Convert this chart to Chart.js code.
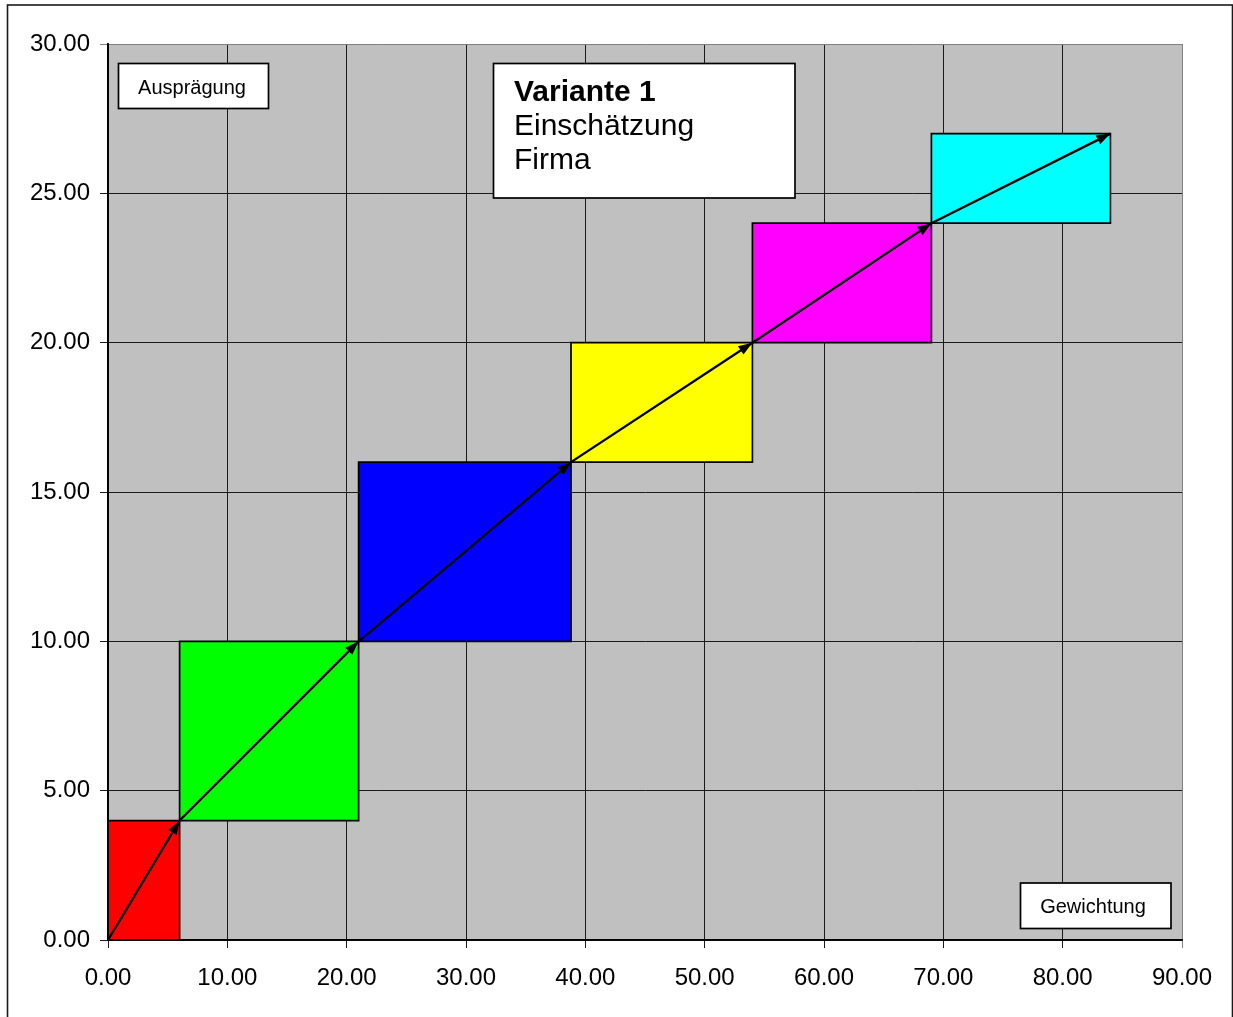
<!DOCTYPE html>
<html>
<head>
<meta charset="utf-8">
<title>Variante 1 – Einschätzung Firma</title>
<script src="https://cdn.jsdelivr.net/npm/chart.js@4/dist/chart.umd.min.js"></script>
<style>
  html, body { margin: 0; padding: 0; background: #fff; }
  canvas { display: block; }
</style>
</head>
<body>
<canvas id="chart" width="1233" height="1017"></canvas>
<script>
// Cumulative boundaries of the segments: weight (x) and rating (y)
const gewichtungGrenzen = [0, 6, 21, 38.8, 54, 69, 84];
const auspraegungGrenzen = [0, 4, 10, 16, 20, 24, 27];
const segmentFarben = ['#FF0000', '#00FF00', '#0000FF', '#FFFF00', '#FF00FF', '#00FFFF'];

// Axis ranges
const xBereich = { min: 0, max: 90, step: 10 };
const yBereich = { min: 0, max: 30, step: 5 };

// Text boxes
const titelZeilen = ['Variante 1', 'Einschätzung', 'Firma'];
const yAchsenTitel = 'Ausprägung';
const xAchsenTitel = 'Gewichtung';

const FONT = "'Liberation Sans', Arial, Helvetica, sans-serif";

// One closed rectangle per segment
const rechteckDatasets = segmentFarben.map((farbe, i) => {
  const x0 = gewichtungGrenzen[i], x1 = gewichtungGrenzen[i + 1];
  const y0 = auspraegungGrenzen[i], y1 = auspraegungGrenzen[i + 1];
  return {
    label: 'Segment ' + (i + 1),
    data: [{x: x0, y: y0}, {x: x1, y: y0}, {x: x1, y: y1}, {x: x0, y: y1}, {x: x0, y: y0}],
    showLine: true,
    fill: 'shape',
    backgroundColor: farbe,
    borderColor: '#000',
    borderWidth: 1.7,
    pointRadius: 0,
    tension: 0
  };
});

// Diagonal path through the corners
const pfadDataset = {
  label: 'Pfad',
  data: gewichtungGrenzen.map((x, i) => ({x: x, y: auspraegungGrenzen[i]})),
  showLine: true,
  fill: false,
  borderColor: '#000',
  borderWidth: 2.3,
  pointRadius: 0,
  tension: 0
};

const plotHintergrund = {
  id: 'plotHintergrund',
  beforeDraw(chart) {
    const {ctx, chartArea: a} = chart;
    ctx.save();
    ctx.fillStyle = '#fff';
    ctx.fillRect(0, 0, chart.width, chart.height);
    ctx.fillStyle = '#C0C0C0';
    ctx.fillRect(a.left, a.top, a.right - a.left, a.bottom - a.top);
    ctx.restore();
  }
};

const pfeilSpitzen = {
  id: 'pfeilSpitzen',
  afterDatasetsDraw(chart) {
    const {ctx, scales: {x, y}} = chart;
    ctx.save();
    ctx.fillStyle = '#000';
    for (let i = 1; i < gewichtungGrenzen.length; i++) {
      const px0 = x.getPixelForValue(gewichtungGrenzen[i - 1]);
      const py0 = y.getPixelForValue(auspraegungGrenzen[i - 1]);
      const px1 = x.getPixelForValue(gewichtungGrenzen[i]);
      const py1 = y.getPixelForValue(auspraegungGrenzen[i]);
      const ang = Math.atan2(py1 - py0, px1 - px0);
      const len = 14, half = 5;
      ctx.beginPath();
      ctx.moveTo(px1, py1);
      ctx.lineTo(px1 - len * Math.cos(ang) + half * Math.sin(ang), py1 - len * Math.sin(ang) - half * Math.cos(ang));
      ctx.lineTo(px1 - len * Math.cos(ang) - half * Math.sin(ang), py1 - len * Math.sin(ang) + half * Math.cos(ang));
      ctx.closePath();
      ctx.fill();
    }
    ctx.restore();
  }
};

function textBox(ctx, l, t, r, b) {
  ctx.fillStyle = '#fff';
  ctx.fillRect(l, t, r - l, b - t);
  ctx.strokeStyle = '#000';
  ctx.lineWidth = 1.7;
  ctx.strokeRect(l, t, r - l, b - t);
}

const beschriftungen = {
  id: 'beschriftungen',
  afterDraw(chart) {
    const {ctx} = chart;
    ctx.save();
    // outer frame
    ctx.strokeStyle = '#1a1a1a';
    ctx.lineWidth = 1.6;
    ctx.strokeRect(7.5, 5, 1225, 1100);

    // y-axis caption
    textBox(ctx, 118.5, 63.5, 268.5, 108.5);
    ctx.fillStyle = '#000';
    ctx.font = '20px ' + FONT;
    ctx.textAlign = 'center';
    ctx.textBaseline = 'alphabetic';
    ctx.fillText(yAchsenTitel, 192, 94);

    // x-axis caption
    textBox(ctx, 1020.5, 883, 1171, 928.5);
    ctx.fillStyle = '#000';
    ctx.fillText(xAchsenTitel, 1093, 913);

    // title block
    textBox(ctx, 493.5, 63.5, 795, 198);
    ctx.fillStyle = '#000';
    ctx.textAlign = 'left';
    ctx.font = 'bold 30px ' + FONT;
    ctx.fillText(titelZeilen[0], 514, 101);
    ctx.font = '30px ' + FONT;
    ctx.fillText(titelZeilen[1], 514, 135);
    ctx.fillText(titelZeilen[2], 514, 169);
    ctx.restore();
  }
};

new Chart(document.getElementById('chart'), {
  type: 'scatter',
  data: { datasets: [pfadDataset, ...rechteckDatasets] },
  options: {
    responsive: false,
    animation: false,
    layout: { padding: { top: 44, right: 51, left: 0, bottom: 0 } },
    plugins: {
      legend: { display: false },
      tooltip: { enabled: false },
      filler: { propagate: false }
    },
    scales: {
      x: {
        type: 'linear',
        min: xBereich.min, max: xBereich.max,
        afterFit(scale) { scale.height = 77; },
        border: { display: true, color: '#000', width: 1.8 },
        grid: {
          color: ctx => (ctx.tick && ctx.tick.value === xBereich.max) ? '#808080' : '#1a1a1a',
          lineWidth: 1,
          drawTicks: true,
          tickLength: 8
        },
        ticks: {
          stepSize: xBereich.step,
          color: '#000',
          padding: 16,
          maxRotation: 0,
          font: { family: FONT, size: 24 },
          callback: v => Number(v).toFixed(2)
        }
      },
      y: {
        type: 'linear',
        min: yBereich.min, max: yBereich.max,
        afterFit(scale) { scale.width = 108; },
        border: { display: true, color: '#000', width: 1.8 },
        grid: {
          color: ctx => (ctx.tick && ctx.tick.value === yBereich.max) ? '#808080' : '#1a1a1a',
          lineWidth: 1,
          drawTicks: true,
          tickLength: 8
        },
        ticks: {
          stepSize: yBereich.step,
          color: '#000',
          padding: 10,
          font: { family: FONT, size: 24 },
          callback: v => Number(v).toFixed(2)
        }
      }
    }
  },
  plugins: [plotHintergrund, pfeilSpitzen, beschriftungen]
});
</script>
</body>
</html>
